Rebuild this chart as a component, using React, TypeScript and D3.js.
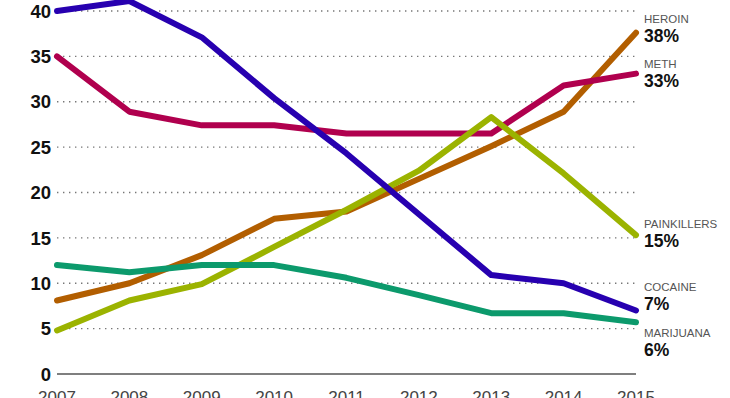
import * as d3 from "d3";
import React, { useEffect, useRef } from "react";

const years = [2007, 2008, 2009, 2010, 2011, 2012, 2013, 2014, 2015];
const yTicks = [0, 5, 10, 15, 20, 25, 30, 35, 40];

const heroin = [8.1, 10.0, 13.1, 17.1, 17.9, 21.5, 25.1, 28.9, 37.6];
const meth = [35.0, 28.9, 27.4, 27.4, 26.5, 26.5, 26.5, 31.8, 33.1];
const painkillers = [4.8, 8.1, 9.9, 14.0, 18.1, 22.4, 28.3, 22.1, 15.3];
const cocaine = [40.0, 41.1, 37.1, 30.4, 24.3, 17.6, 10.9, 10.0, 7.0];
const marijuana = [12.0, 11.2, 12.0, 12.0, 10.6, 8.7, 6.7, 6.7, 5.7];

const seriesNames = ["HEROIN", "METH", "PAINKILLERS", "COCAINE", "MARIJUANA"];
const seriesValues = [heroin, meth, painkillers, cocaine, marijuana];
const endLabels = ["38%", "33%", "15%", "7%", "6%"];
// where the name line of each right-hand label sits, in chart units
const labelAt = [38.7, 33.7, 16.1, 9.1, 4.1];
const colors = ["#b25e00", "#b0004e", "#9bb300", "#2700b0", "#0c9a6c"];

const W = 730;
const H = 398;
const margin = { top: 11, right: 93, bottom: 24, left: 57 };

export default function App() {
  const ref = useRef<SVGSVGElement | null>(null);

  useEffect(() => {
    const svg = d3.select(ref.current);
    svg.selectAll("*").remove();

    const x = d3
      .scaleLinear()
      .domain([2007, 2015])
      .range([margin.left, W - margin.right - 1]);
    const y = d3
      .scaleLinear()
      .domain([0, 40])
      .range([H - margin.bottom, margin.top]);

    const g = svg.append("g");
    const font = "'Liberation Sans', Arial, Helvetica, sans-serif";

    // dotted gridlines
    g.selectAll("line.grid")
      .data(yTicks.filter((t) => t > 0))
      .enter()
      .append("line")
      .attr("x1", x(2007))
      .attr("x2", x(2015))
      .attr("y1", (d) => y(d))
      .attr("y2", (d) => y(d))
      .attr("stroke", "#777")
      .attr("stroke-width", 1.4)
      .attr("stroke-dasharray", "1.4 4.6");

    // baseline
    g.append("line")
      .attr("x1", x(2007))
      .attr("x2", x(2015))
      .attr("y1", y(0))
      .attr("y2", y(0))
      .attr("stroke", "#555")
      .attr("stroke-width", 1.5);

    // y tick labels
    g.selectAll("text.ytick")
      .data(yTicks)
      .enter()
      .append("text")
      .attr("x", margin.left - 6)
      .attr("y", (d) => y(d))
      .attr("dy", "0.36em")
      .attr("text-anchor", "end")
      .attr("font-family", font)
      .attr("font-weight", "bold")
      .attr("font-size", 18.5)
      .attr("fill", "#111")
      .text((d) => d);

    // x labels (cut off by bottom edge, as in the original)
    g.selectAll("text.xtick")
      .data(years)
      .enter()
      .append("text")
      .attr("x", (d) => x(d))
      .attr("y", y(0) + 29)
      .attr("text-anchor", "middle")
      .attr("font-family", font)
      .attr("font-size", 17)
      .attr("fill", "#444")
      .text((d) => d);

    const line = d3
      .line<number>()
      .x((_, i) => x(years[i]))
      .y((d) => y(d));

    seriesValues.forEach((vals, i) => {
      g.append("path")
        .attr("d", line(vals))
        .attr("fill", "none")
        .attr("stroke", colors[i])
        .attr("stroke-width", 6)
        .attr("stroke-linecap", "round")
        .attr("stroke-linejoin", "round");
    });

    // right-hand labels
    seriesNames.forEach((name, i) => {
      const ly = y(labelAt[i]);
      g.append("text")
        .attr("x", x(2015) + 8)
        .attr("y", ly)
        .attr("font-family", font)
        .attr("font-size", 11.5)
        .attr("fill", "#555")
        .text(name);
      g.append("text")
        .attr("x", x(2015) + 8)
        .attr("y", ly + 19)
        .attr("font-family", font)
        .attr("font-weight", "bold")
        .attr("font-size", 17.5)
        .attr("fill", "#111")
        .text(endLabels[i]);
    });
  }, []);

  return (
    <svg
      ref={ref}
      width={W}
      height={H}
      style={{ position: "absolute", left: 0, top: 0, background: "#fff" }}
    />
  );
}
